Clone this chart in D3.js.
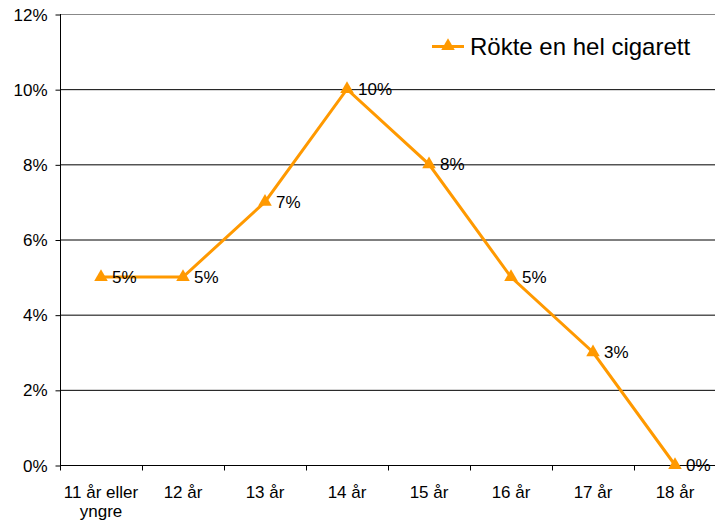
<!DOCTYPE html>
<html><head><meta charset="utf-8">
<script src="https://cdn.jsdelivr.net/npm/d3@7"></script>
<style>body{margin:0;background:#fff}svg{display:block}text{font-family:"Liberation Sans",Arial,sans-serif;fill:#000}</style>
</head><body><svg id="c" width="715" height="521"></svg>
<script>
const categories = [["11 år eller","yngre"],["12 år"],["13 år"],["14 år"],["15 år"],["16 år"],["17 år"],["18 år"]];
const values = [5,5,7,10,8,5,3,0];
const yTicks = [0,2,4,6,8,10,12];
const seriesName = "Rökte en hel cigarett";
const color = "#FF9900";

const svg = d3.select("#c");
const L = 60, R = 716, T = 14, B = 465;
const x = d3.scaleBand().domain(d3.range(categories.length)).range([L, R]);
const y = d3.scaleLinear().domain([0,12]).range([B, T]);

// gridlines
svg.append("g").selectAll("line").data(yTicks.filter(d=>d>0)).join("line")
  .attr("x1", L).attr("x2", 715).attr("y1", d=>y(d)+0.5).attr("y2", d=>y(d)+0.5)
  .attr("stroke", d=>d===12?"#888":"#000").attr("stroke-width",1);

// y axis
const ya = svg.append("g").attr("transform",`translate(${L+0.5},0)`)
  .call(d3.axisLeft(y).tickValues(yTicks).tickFormat(d=>d+"%").tickSize(5).tickPadding(8));
ya.select(".domain").remove();
ya.append("line").attr("x1",0).attr("x2",0).attr("y1",T).attr("y2",B).attr("stroke","#000");
ya.selectAll(".tick line").attr("transform","translate(0,0.5)");
ya.selectAll("text").attr("font-size",17).attr("dy","0.36em").attr("font-family","Liberation Sans, Arial, sans-serif").attr("fill","#000");

// x axis
const xa = svg.append("g").attr("transform",`translate(0,${B+0.5})`);
xa.append("line").attr("x1",L).attr("x2",715).attr("stroke","#000");
xa.selectAll(".xt").data(d3.range(categories.length+1)).join("line")
  .attr("x1", i=> Math.round(L + i*x.step())+0.5).attr("x2", i=> Math.round(L + i*x.step())+0.5)
  .attr("y1",0).attr("y2",5).attr("stroke","#000");
categories.forEach((lines,i)=>{
  const t = xa.append("text").attr("text-anchor","middle").attr("font-size",17)
    .attr("x", x(i)+x.bandwidth()/2).attr("y", 32);
  lines.forEach((s,j)=>t.append("tspan").attr("x", x(i)+x.bandwidth()/2).attr("dy", j===0?0:19).text(s));
});

// line
const cx = i => x(i)+x.bandwidth()/2;
svg.append("path").datum(values)
  .attr("d", d3.line().x((d,i)=>cx(i)).y(d=>y(d)))
  .attr("fill","none").attr("stroke",color).attr("stroke-width",3).attr("stroke-linejoin","miter");

const tri = d3.symbol().type(d3.symbolTriangle).size(80);
svg.append("g").selectAll("path").data(values).join("path")
  .attr("d", tri).attr("transform",(d,i)=>`translate(${cx(i)},${y(d)})`).attr("fill",color);

svg.append("g").selectAll("text").data(values).join("text")
  .attr("x",(d,i)=>cx(i)+11).attr("y",d=>y(d)+6).attr("font-size",17).text(d=>d+"%");

// legend
const lg = svg.append("g");
lg.append("line").attr("x1",432).attr("x2",464).attr("y1",46.5).attr("y2",46.5).attr("stroke",color).attr("stroke-width",3);
lg.append("path").attr("d",tri).attr("transform","translate(448,46)").attr("fill",color);
lg.append("text").attr("x",470).attr("y",55).attr("font-size",24).text(seriesName);
</script></body></html>
